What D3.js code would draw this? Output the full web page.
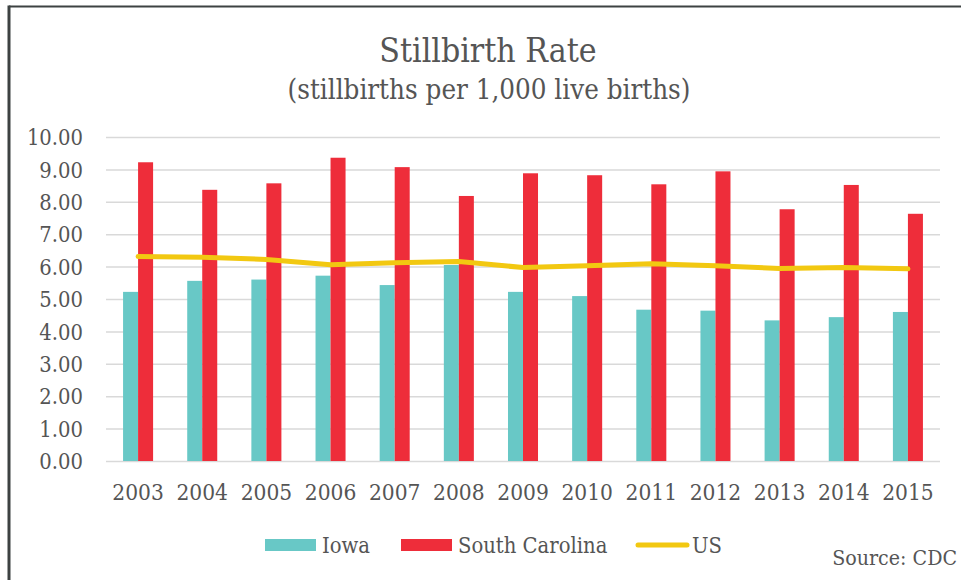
<!DOCTYPE html>
<html><head><meta charset="utf-8">
<script src="https://cdn.jsdelivr.net/npm/d3@7"></script>
<style>
html,body{margin:0;padding:0;background:#fff;}
svg{display:block;}
text{font-family:"DejaVu Serif Condensed","DejaVu Serif","Liberation Serif",serif;font-stretch:condensed;fill:#555;}
</style></head>
<body>
<svg id="chart" width="961" height="580"></svg>
<script>
const years = ["2003","2004","2005","2006","2007","2008","2009","2010","2011","2012","2013","2014","2015"];
const iowa = [5.22,5.56,5.60,5.72,5.43,6.05,5.22,5.09,4.67,4.64,4.34,4.44,4.60];
const southCarolina = [9.22,8.37,8.57,9.36,9.07,8.18,8.88,8.82,8.54,8.94,7.77,8.52,7.63];
const us = [6.31,6.29,6.22,6.06,6.12,6.16,5.97,6.03,6.09,6.03,5.94,5.97,5.93];
const yTicks = [0,1,2,3,4,5,6,7,8,9,10];
const seriesNames = ["Iowa","South Carolina","US"];
const colors = {"Iowa":"#68C8C6","South Carolina":"#EE2D3A","US":"#F2C811"};

const svg = d3.select("#chart");
const plotLeft = 106, plotRight = 940, plotTop = 137, plotBottom = 461;

// frame
svg.append("line").attr("x1",9).attr("x2",961).attr("y1",6.5).attr("y2",6.5).attr("stroke","#3d4242").attr("stroke-width",2);
svg.append("line").attr("x1",9).attr("x2",9).attr("y1",5.5).attr("y2",580).attr("stroke","#3d4242").attr("stroke-width",3);

// titles
svg.append("text").attr("x",488).attr("y",62).attr("text-anchor","middle").attr("font-size",33.5).text("Stillbirth Rate");
svg.append("text").attr("x",489).attr("y",99).attr("text-anchor","middle").attr("font-size",27.5).text("(stillbirths per 1,000 live births)");

const x = d3.scaleBand().domain(years).range([plotLeft,plotRight]).paddingInner(0.532).paddingOuter(0.266);
const xs = d3.scaleBand().domain(["Iowa","South Carolina"]).range([0,x.bandwidth()]);
const y = d3.scaleLinear().domain([0,10]).range([plotBottom,plotTop]);

// gridlines + y axis
const yAxis = d3.axisLeft(y).tickValues(yTicks).tickSize(-(plotRight-plotLeft)).tickPadding(23).tickFormat(d3.format(".2f"));
const gy = svg.append("g").attr("transform",`translate(${plotLeft},0)`).call(yAxis);
gy.select(".domain").remove();
gy.selectAll(".tick line").attr("stroke","#d9d9d9").attr("stroke-width",1.5);
gy.selectAll(".tick text").attr("font-size",21.8).attr("fill","#555").attr("dy","0.35em");

// bars
const g = svg.append("g");
years.forEach((yr,i)=>{
  [["Iowa",iowa[i]],["South Carolina",southCarolina[i]]].forEach(([s,v])=>{
    g.append("rect")
      .attr("x",x(yr)+xs(s)).attr("width",xs.bandwidth())
      .attr("y",y(v)).attr("height",y(0)-y(v))
      .attr("fill",colors[s]);
  });
});

// US line
const line = d3.line().x((d,i)=>x(years[i])+x.bandwidth()/2).y(d=>y(d));
svg.append("path").datum(us).attr("d",line).attr("fill","none")
  .attr("stroke",colors["US"]).attr("stroke-width",5).attr("stroke-linecap","round").attr("stroke-linejoin","round");

// x axis labels
const xAxis = d3.axisBottom(x).tickSize(0).tickPadding(23);
const gx = svg.append("g").attr("transform",`translate(0,${plotBottom})`).call(xAxis);
gx.select(".domain").remove();
gx.selectAll(".tick text").attr("font-size",22.5).attr("fill","#555");

// legend
const lg = svg.append("g");
const legendItems = [
  {name:"Iowa", x:265, type:"rect"},
  {name:"South Carolina", x:401, type:"rect"},
  {name:"US", x:635, type:"line"}
];
legendItems.forEach(it=>{
  if(it.type==="rect"){
    lg.append("rect").attr("x",it.x).attr("y",539).attr("width",51).attr("height",12).attr("fill",colors[it.name]);
  } else {
    lg.append("line").attr("x1",it.x+3).attr("x2",it.x+52).attr("y1",545).attr("y2",545)
      .attr("stroke",colors[it.name]).attr("stroke-width",5).attr("stroke-linecap","round");
  }
  lg.append("text").attr("x",it.x+57).attr("y",553).attr("font-size",21.8).text(it.name);
});

svg.append("text").attr("x",957).attr("y",565).attr("text-anchor","end").attr("font-size",21.2).text("Source: CDC");
</script>
</body></html>
